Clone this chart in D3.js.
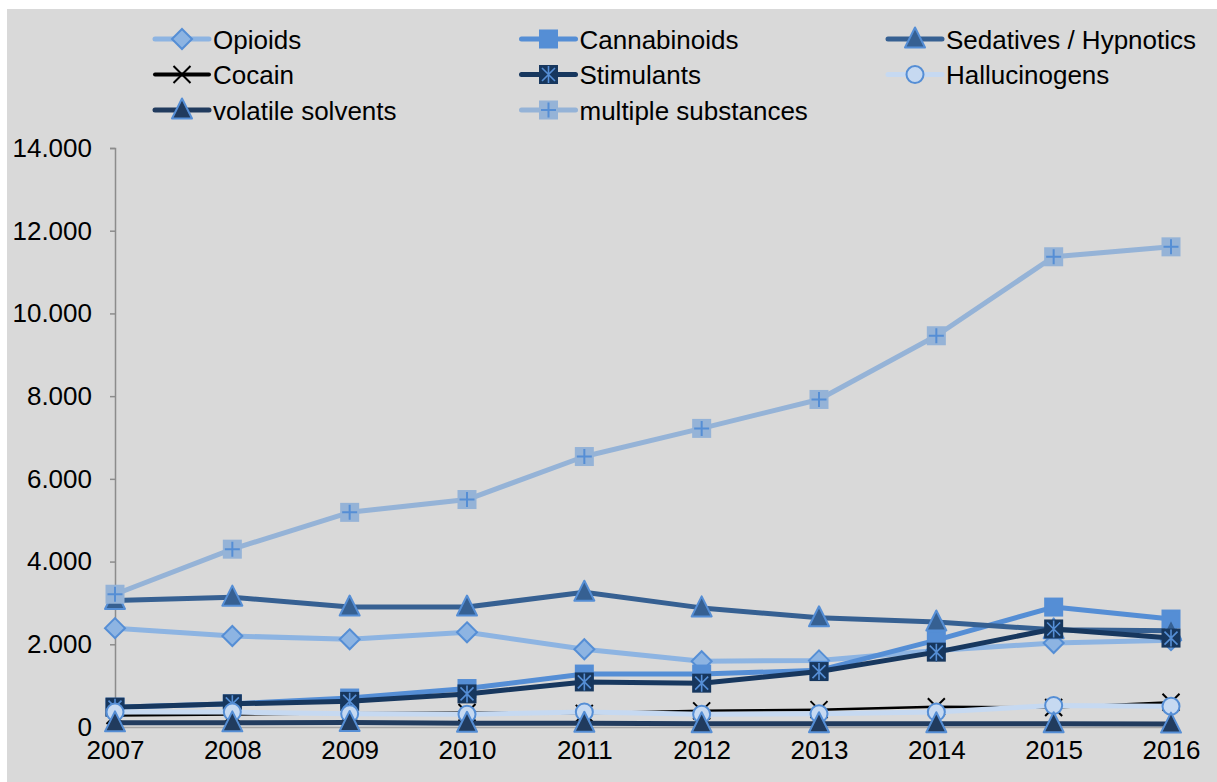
<!DOCTYPE html>
<html>
<head>
<meta charset="utf-8">
<script src="https://cdn.jsdelivr.net/npm/d3@7"></script>
<style>
  html, body { margin: 0; padding: 0; background: #ffffff; }
  svg { display: block; font-family: "Liberation Sans", Arial, sans-serif; }
</style>
</head>
<body>
<svg id="chart" width="1217" height="782"></svg>
<script>
// Cases per year by substance group
const years = [2007, 2008, 2009, 2010, 2011, 2012, 2013, 2014, 2015, 2016];
const opioids       = [2390, 2200, 2120, 2290, 1880, 1590, 1610, 1850, 2030, 2100];
const cannabinoids  = [480, 560, 700, 930, 1280, 1280, 1370, 2100, 2900, 2610];
const sedatives     = [3060, 3140, 2900, 2900, 3260, 2880, 2640, 2540, 2350, 2330];
const cocain        = [280, 300, 330, 350, 330, 390, 420, 490, 470, 600];
const stimulants    = [480, 560, 620, 800, 1090, 1060, 1340, 1810, 2370, 2150];
const hallucinogens = [360, 360, 320, 310, 360, 310, 320, 360, 520, 500];
const volatile      = [100, 100, 110, 90, 90, 80, 80, 80, 80, 70];
const multiple      = [3210, 4300, 5190, 5500, 6540, 7220, 7920, 9460, 11370, 11610];
const yTicks = [0, 2000, 4000, 6000, 8000, 10000, 12000, 14000];

const seriesNames = ["Opioids", "Cannabinoids", "Sedatives / Hypnotics", "Cocain",
  "Stimulants", "Hallucinogens", "volatile solvents", "multiple substances"];
const seriesValues = [opioids, cannabinoids, sedatives, cocain, stimulants,
  hallucinogens, volatile, multiple];

const accent = "#558ed5";
const styles = [
  { line: "#8db4e2", width: 5, marker: "diamond",  fill: "#8db4e2", stroke: accent },
  { line: "#558ed5", width: 5, marker: "square",   fill: "#558ed5", stroke: accent },
  { line: "#366092", width: 5, marker: "triangle", fill: "#366092", stroke: accent },
  { line: "#000000", width: 2.5, marker: "x",      fill: "none",    stroke: "#000000" },
  { line: "#17375e", width: 5, marker: "star",     fill: "#17375e", stroke: accent },
  { line: "#c6d9f1", width: 5, marker: "circle",   fill: "#c6d9f1", stroke: accent },
  { line: "#213b5e", width: 5, marker: "triangle", fill: "#213b5e", stroke: accent },
  { line: "#95b3d7", width: 5, marker: "plus",     fill: "#95b3d7", stroke: accent }
];

const fontSize = 26;
const svg = d3.select("#chart");
svg.append("rect").attr("x", 7).attr("y", 9).attr("width", 1210).attr("height", 773)
  .attr("fill", "#d9d9d9");

const x = d3.scalePoint().domain(years).range([115, 1171]);
const y = d3.scaleLinear().domain([0, 14000]).range([727, 148]);

const de = d3.formatLocale({ decimal: ",", thousands: ".", grouping: [3], currency: ["", ""] });
const fmt = de.format(",");

// Y axis
const yAxis = svg.append("g").attr("transform", "translate(115,0)")
  .call(d3.axisLeft(y).tickValues(yTicks).tickFormat(v => v === 0 ? "0" : fmt(v))
    .tickSize(5).tickPadding(18));
yAxis.select(".domain").attr("stroke", "#8c8c8c").attr("stroke-width", 1.5);
yAxis.selectAll(".tick line").attr("stroke", "#8c8c8c").attr("stroke-width", 1.5);
yAxis.selectAll(".tick text").attr("font-size", fontSize).attr("fill", "#000")
  .attr("font-family", "'Liberation Sans', Arial, sans-serif");

// X axis
const xAxis = svg.append("g").attr("transform", "translate(0,727)")
  .call(d3.axisBottom(x).tickSize(5).tickSizeOuter(0).tickPadding(9));
xAxis.select(".domain").attr("stroke", "#a6a6a6").attr("stroke-width", 1.5);
xAxis.selectAll(".tick line").attr("stroke", "#a6a6a6").attr("stroke-width", 1.5);
xAxis.selectAll(".tick text").attr("font-size", fontSize).attr("fill", "#000")
  .attr("font-family", "'Liberation Sans', Arial, sans-serif");

// Marker shapes, centred on the origin
function drawMarker(g, st) {
  const s = 8.5;
  switch (st.marker) {
    case "diamond":
      g.append("path").attr("d", `M0,${-s - 1.5}L${s + 1.5},0L0,${s + 1.5}L${-s - 1.5},0Z`)
        .attr("fill", st.fill).attr("stroke", st.stroke).attr("stroke-width", 2);
      break;
    case "square":
      g.append("rect").attr("x", -s).attr("y", -s).attr("width", 2 * s).attr("height", 2 * s)
        .attr("fill", st.fill).attr("stroke", st.stroke).attr("stroke-width", 2);
      break;
    case "triangle":
      g.append("path").attr("d", `M0,${-s - 3}L${s + 1.5},${s}L${-s - 1.5},${s}Z`)
        .attr("fill", st.fill).attr("stroke", st.stroke).attr("stroke-width", 2)
        .attr("stroke-linejoin", "round");
      break;
    case "circle":
      g.append("circle").attr("r", s).attr("fill", st.fill)
        .attr("stroke", st.stroke).attr("stroke-width", 2);
      break;
    case "x":
      g.append("path").attr("d", `M${-s},${-s}L${s},${s}M${s},${-s}L${-s},${s}`)
        .attr("stroke", "#000").attr("stroke-width", 2).attr("fill", "none");
      break;
    case "star":
      g.append("rect").attr("x", -s).attr("y", -s).attr("width", 2 * s).attr("height", 2 * s)
        .attr("fill", st.fill).attr("stroke", st.fill).attr("stroke-width", 2);
      g.append("path")
        .attr("d", `M${-s + 2},${-s + 2}L${s - 2},${s - 2}M${s - 2},${-s + 2}L${-s + 2},${s - 2}M0,${-s}L0,${s}`)
        .attr("stroke", st.stroke).attr("stroke-width", 1.6);
      break;
    case "plus":
      g.append("rect").attr("x", -s - 1).attr("y", -s - 1).attr("width", 2 * s + 2).attr("height", 2 * s + 2)
        .attr("fill", st.fill);
      g.append("path").attr("d", `M${-s + 1},0L${s - 1},0M0,${-s + 1}L0,${s - 1}`)
        .attr("stroke", st.stroke).attr("stroke-width", 2);
      break;
  }
}

// Series: line then markers, in series order
const line = d3.line().x((d, i) => x(years[i])).y(d => y(d));
seriesValues.forEach((vals, k) => {
  const st = styles[k];
  const g = svg.append("g").attr("class", "series");
  g.append("path").datum(vals).attr("d", line).attr("fill", "none")
    .attr("stroke", st.line).attr("stroke-width", st.width)
    .attr("stroke-linejoin", "round").attr("stroke-linecap", "round");
  vals.forEach((v, i) => {
    const m = g.append("g").attr("transform", `translate(${x(years[i])},${y(v)})`);
    drawMarker(m, st);
  });
});

// Legend: three columns
const legend = svg.append("g");
seriesNames.forEach((name, k) => {
  const st = styles[k];
  const col = k % 3, row = Math.floor(k / 3);
  const lx = 155 + col * 366.5, ly = 39 + row * 35.5;
  const item = legend.append("g").attr("transform", `translate(${lx},${ly})`);
  item.append("line").attr("x1", 0).attr("x2", 54).attr("y1", 0).attr("y2", 0)
    .attr("stroke", st.line).attr("stroke-width", Math.max(st.width, 4))
    .attr("stroke-linecap", "round");
  const m = item.append("g").attr("transform", "translate(27,0)");
  drawMarker(m, st);
  item.append("text").attr("x", 58).attr("y", 9.5).attr("font-size", fontSize).attr("fill", "#000")
    .text(name);
});
</script>
</body>
</html>
